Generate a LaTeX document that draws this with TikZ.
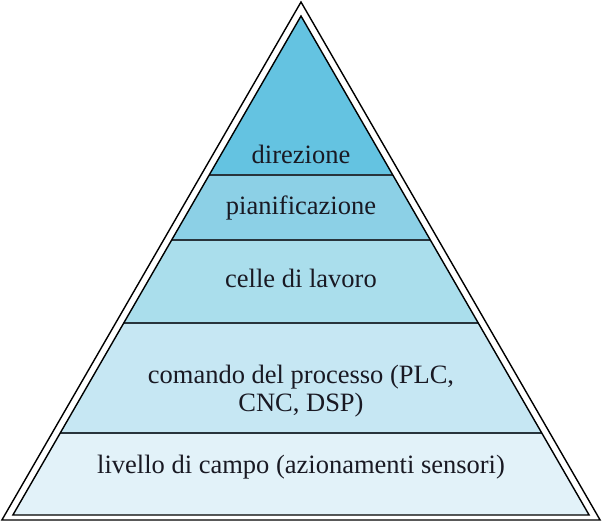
\documentclass[tikz,border=0pt]{standalone}
\usepackage{fontspec}
\setmainfont{Liberation Serif}
\definecolor{bandA}{RGB}{100,195,225}
\definecolor{bandB}{RGB}{140,208,230}
\definecolor{bandC}{RGB}{170,222,236}
\definecolor{bandD}{RGB}{198,231,243}
\definecolor{bandE}{RGB}{226,242,249}
\definecolor{linecol}{RGB}{40,52,60}
\definecolor{txt}{RGB}{25,25,35}
\tikzset{
  band/.style={draw=none},
  sep/.style={draw=linecol, line width=2pt},
  edge/.style={draw=black, line width=1.4pt, line join=miter},
  lbl/.style={text=txt, font=\fontsize{26.5}{28.5}\selectfont, align=center, inner sep=0pt}
}
\begin{document}
\begin{tikzpicture}[x=1pt,y=-1pt]
\useasboundingbox (0,0) rectangle (602,529);
% inner triangle corners
\coordinate (T) at (301,16);
\coordinate (L1) at (209.2,175); \coordinate (R1) at (392.8,175);
\coordinate (L2) at (171.7,240); \coordinate (R2) at (430.3,240);
\coordinate (L3) at (124.0,322.5); \coordinate (R3) at (478.0,322.5);
\coordinate (L4) at (60.2,433); \coordinate (R4) at (541.8,433);
\coordinate (L5) at (12.9,515); \coordinate (R5) at (589.1,515);
% bands
\fill[bandA] (T) -- (R1) -- (L1) -- cycle;
\fill[bandB] (L1) -- (R1) -- (R2) -- (L2) -- cycle;
\fill[bandC] (L2) -- (R2) -- (R3) -- (L3) -- cycle;
\fill[bandD] (L3) -- (R3) -- (R4) -- (L4) -- cycle;
\fill[bandE] (L4) -- (R4) -- (R5) -- (L5) -- cycle;
% separators
\draw[sep] (L1) -- (R1);
\draw[sep] (L2) -- (R2);
\draw[sep] (L3) -- (R3);
\draw[sep] (L4) -- (R4);
% inner outline
\draw[edge] (T) -- (R5) -- (L5) -- cycle;
% outer outline
\coordinate (OT) at (301,2);
\coordinate (OL) at (1.9,520);
\coordinate (OR) at (600.1,520);
\draw[edge] (OT) -- (OR) -- (OL) -- cycle;
% labels
\node[lbl] (n1) at (301,154) {direzione};
\node[lbl] (n2) at (301,208) {pianificazione};
\node[lbl] (n3) at (301,278) {celle di lavoro};
\node[lbl] (n4) at (301,391) {comando del processo (PLC,\\CNC, DSP)};
\node[lbl] (n5) at (301,467) {livello di campo (azionamenti sensori)};
\end{tikzpicture}
\end{document}
